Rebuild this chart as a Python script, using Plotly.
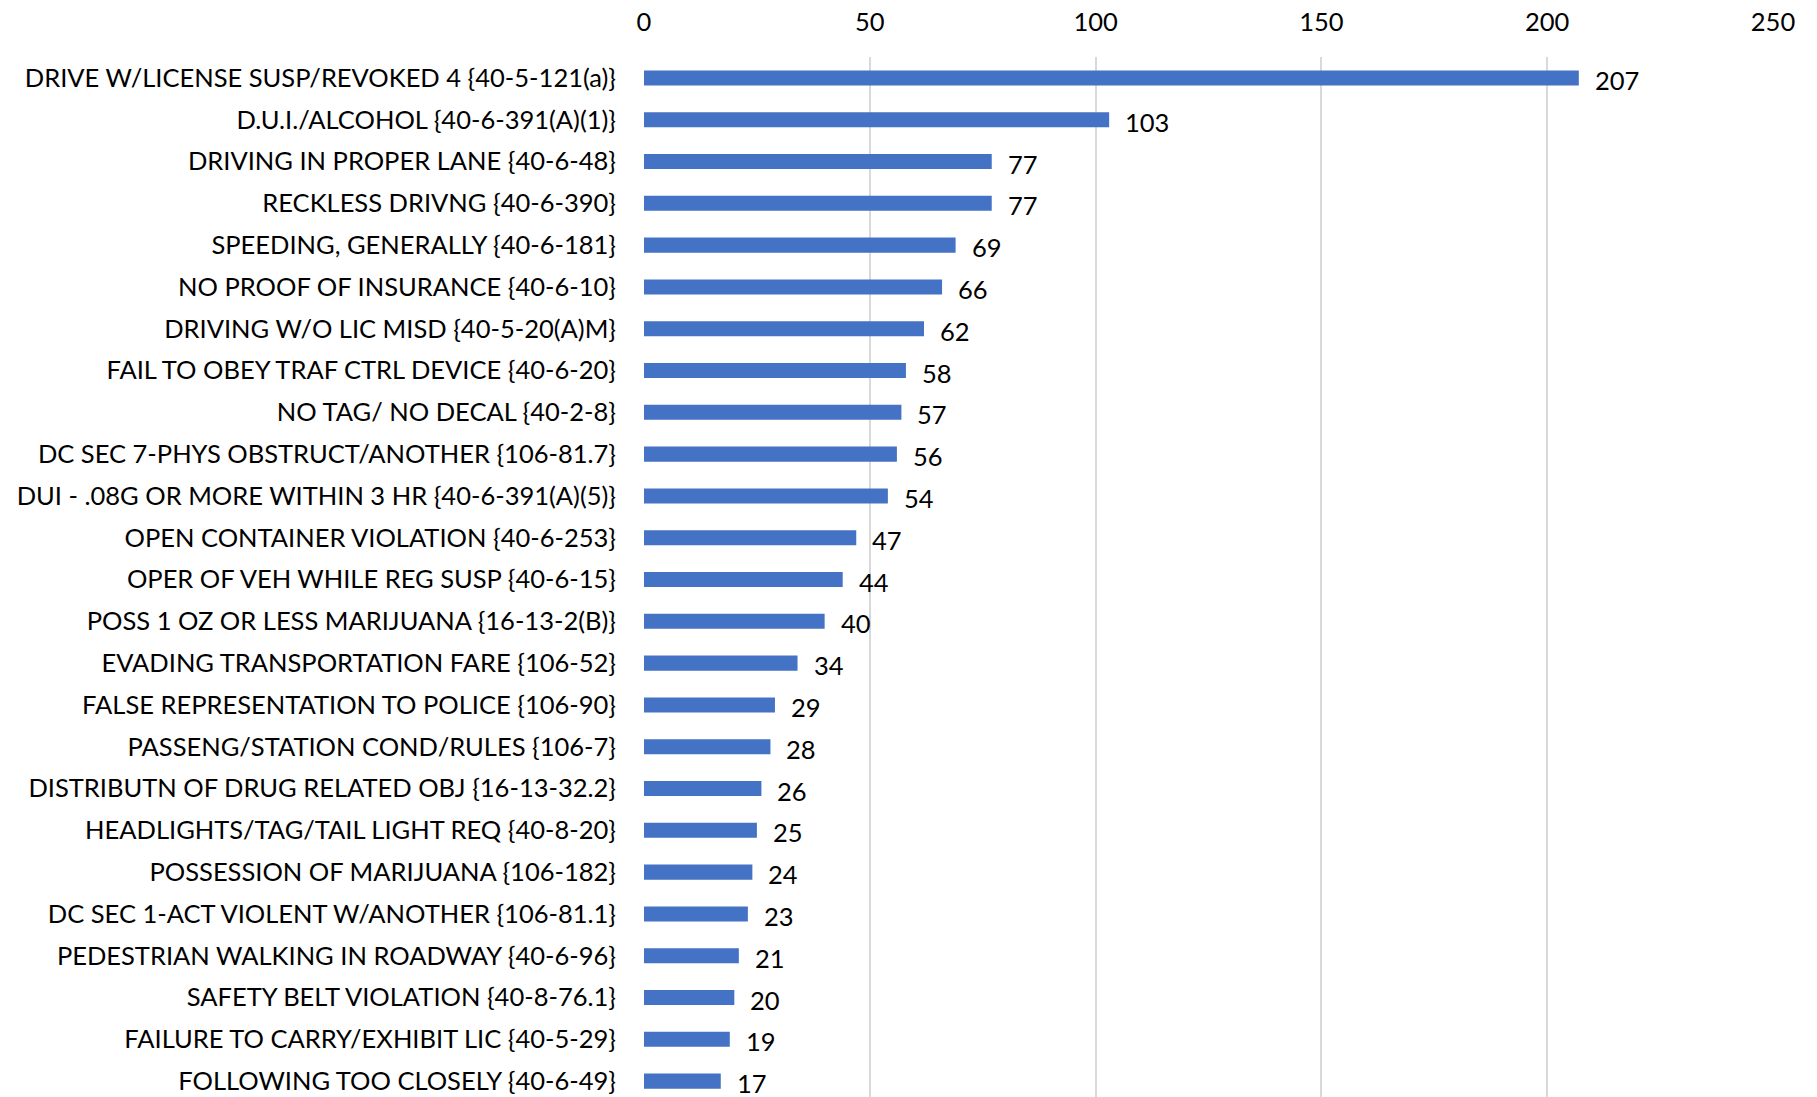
import plotly.graph_objects as go

offenses = [
    "DRIVE W/LICENSE SUSP/REVOKED 4 {40-5-121(a)}",
    "D.U.I./ALCOHOL {40-6-391(A)(1)}",
    "DRIVING IN PROPER LANE {40-6-48}",
    "RECKLESS DRIVNG {40-6-390}",
    "SPEEDING, GENERALLY {40-6-181}",
    "NO PROOF OF INSURANCE {40-6-10}",
    "DRIVING W/O LIC MISD {40-5-20(A)M}",
    "FAIL TO OBEY TRAF CTRL DEVICE {40-6-20}",
    "NO TAG/ NO DECAL {40-2-8}",
    "DC SEC 7-PHYS OBSTRUCT/ANOTHER {106-81.7}",
    "DUI - .08G OR MORE WITHIN 3 HR {40-6-391(A)(5)}",
    "OPEN CONTAINER VIOLATION {40-6-253}",
    "OPER OF VEH WHILE REG SUSP {40-6-15}",
    "POSS 1 OZ OR LESS MARIJUANA {16-13-2(B)}",
    "EVADING TRANSPORTATION FARE {106-52}",
    "FALSE REPRESENTATION TO POLICE {106-90}",
    "PASSENG/STATION COND/RULES {106-7}",
    "DISTRIBUTN OF DRUG RELATED OBJ {16-13-32.2}",
    "HEADLIGHTS/TAG/TAIL LIGHT REQ {40-8-20}",
    "POSSESSION OF MARIJUANA {106-182}",
    "DC SEC 1-ACT VIOLENT W/ANOTHER {106-81.1}",
    "PEDESTRIAN WALKING IN ROADWAY {40-6-96}",
    "SAFETY BELT VIOLATION {40-8-76.1}",
    "FAILURE TO CARRY/EXHIBIT LIC {40-5-29}",
    "FOLLOWING TOO CLOSELY {40-6-49}",
]
counts = [207, 103, 77, 77, 69, 66, 62, 58, 57, 56, 54, 47, 44, 40, 34,
          29, 28, 26, 25, 24, 23, 21, 20, 19, 17]

FONT = "Lato"
FSIZE = 25.5

fig = go.Figure()
fig.add_trace(go.Bar(
    x=counts,
    y=offenses,
    orientation="h",
    width=0.36,
    marker=dict(color="#4472C4", line=dict(width=0)),
    hoverinfo="x+y",
))

# value labels right of each bar
for name, val in zip(offenses, counts):
    fig.add_annotation(
        x=val, y=name, text=str(val),
        xanchor="left", yanchor="middle",
        xshift=14, yshift=-2,
        showarrow=False,
        font=dict(family=FONT, size=FSIZE, color="#000000"),
    )

fig.update_layout(
    width=1817,
    height=1097,
    plot_bgcolor="white",
    paper_bgcolor="white",
    margin=dict(l=644, r=44, t=57, b=0, autoexpand=False),
    showlegend=False,
    font=dict(family=FONT, size=FSIZE, color="#000000"),
)
fig.update_xaxes(
    side="top",
    range=[0, 250],
    tickvals=[0, 50, 100, 150, 200, 250],
    showgrid=True,
    gridcolor="#d9d9d9",
    gridwidth=2,
    zeroline=False,
    showline=False,
    ticks="",
    automargin=False,
    ticklabelstandoff=20,
    tickfont=dict(family=FONT, size=FSIZE, color="#000000"),
)
fig.update_yaxes(
    type="category",
    range=[24.38, -0.5],
    showgrid=False,
    zeroline=False,
    showline=False,
    ticks="",
    automargin=False,
    ticklabelstandoff=27,
    tickfont=dict(family=FONT, size=FSIZE, color="#000000"),
)

# drop the browser's default 8px body margin so the figure fills the window
fig.write_html(
    "out.html",
    config={"displayModeBar": False},
    post_script="document.body.style.margin = '0'; document.body.style.overflow = 'hidden';",
)
